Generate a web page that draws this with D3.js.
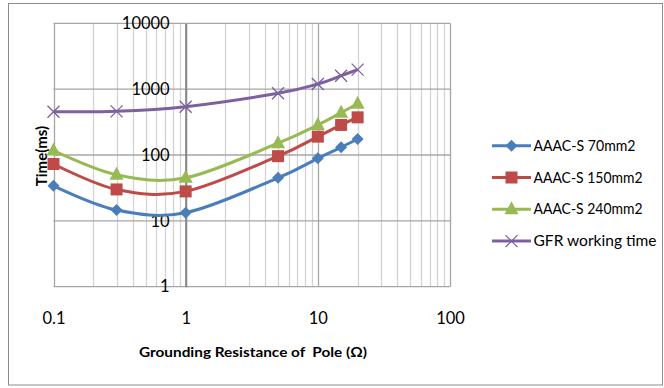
<!DOCTYPE html>
<html>
<head>
<meta charset="utf-8">
<script src="https://cdn.jsdelivr.net/npm/d3@7"></script>
<style>
  body { margin: 0; background: #fff; }
  svg text { font-family: Lato, "Liberation Sans", Arial, sans-serif; fill: #000; }
</style>
</head>
<body>
<svg id="chart" width="664" height="388"></svg>
<script>
// grounding resistance of pole (ohm)
const resistance = [0.1, 0.3, 1, 5, 10, 15, 20];

// times in ms
const aaac70 = [34, 14.6, 13.3, 45, 89, 131, 175];
const aaac150 = [73, 30, 28, 96, 190, 286, 373];
const aaac240 = [117, 50, 45, 151, 286, 440, 600];
const gfrTime = [455, 460, 542, 865, 1197, 1600, 1980];

const seriesNames = ['AAAC-S 70mm2', 'AAAC-S 150mm2', 'AAAC-S 240mm2', 'GFR working time'];
const xTickLabels = ['0.1', '1', '10', '100'];
const yTickLabels = ['1', '10', '100', '1000', '10000'];

const series = [
    { name: seriesNames[0], values: aaac70, color: '#4a7ebb', marker: 'diamond' },
    { name: seriesNames[1], values: aaac150, color: '#be4b48', marker: 'square' },
    { name: seriesNames[2], values: aaac240, color: '#98b954', marker: 'triangle' },
    { name: seriesNames[3], values: gfrTime, color: '#7d60a0', marker: 'cross' }
];

let svg = d3.select('#chart');

// chart border
svg.append('rect')
    .attr('x', 8.5).attr('y', 3.5)
    .attr('width', 654).attr('height', 381.5)
    .attr('fill', '#fff')
    .attr('stroke', '#8c8c8c');

let x = d3.scaleLog().domain([0.1, 100]).range([53.5, 450]);
let y = d3.scaleLog().domain([1, 10000]).range([286.7, 23.3]);

let isMajor = v => Math.abs(Math.log10(v) - Math.round(Math.log10(v))) < 1e-6;

// vertical gridlines (minor first, then major)
let xt = x.ticks();
svg.append('g').selectAll('line')
    .data(xt.filter(v => !isMajor(v)))
    .enter().append('line')
    .attr('x1', d => Math.round(x(d)) + 0.5).attr('x2', d => Math.round(x(d)) + 0.5)
    .attr('y1', y(1)).attr('y2', y(10000))
    .attr('stroke', '#d4d4d4').attr('stroke-width', 1.3);

svg.append('g').selectAll('line')
    .data(xt.filter(isMajor))
    .enter().append('line')
    .attr('x1', d => Math.round(x(d)) + 0.5).attr('x2', d => Math.round(x(d)) + 0.5)
    .attr('y1', y(1)).attr('y2', y(10000))
    .attr('stroke', '#a6a6a6').attr('stroke-width', 1.3);

// horizontal gridlines at decades
svg.append('g').selectAll('line')
    .data(yTickLabels.map(Number))
    .enter().append('line')
    .attr('x1', x(0.1)).attr('x2', x(100))
    .attr('y1', d => y(d)).attr('y2', d => y(d))
    .attr('stroke', '#a6a6a6').attr('stroke-width', 1.3);

// y axis crosses at x = 1
let yAxis = d3.axisLeft(y)
    .tickValues(yTickLabels.map(Number))
    .tickFormat((d, i) => yTickLabels[i])
    .tickSize(0)
    .tickPadding(16);

let gy = svg.append('g')
    .attr('transform', `translate(${x(1)},0)`)
    .call(yAxis);
gy.select('.domain').attr('stroke', '#868686').attr('stroke-width', 2);
gy.selectAll('text')
    .style('font-family', 'Lato, "Liberation Sans", sans-serif')
    .style('font-size', '16.5px');

let xAxis = d3.axisBottom(x)
    .tickValues(xTickLabels.map(Number))
    .tickFormat((d, i) => xTickLabels[i])
    .tickSize(0)
    .tickPadding(26);

let gx = svg.append('g')
    .attr('transform', `translate(0,${y(1)})`)
    .call(xAxis);
gx.select('.domain').remove();
gx.selectAll('text')
    .style('font-family', 'Lato, "Liberation Sans", sans-serif')
    .style('font-size', '16.5px');

// axis titles
svg.append('text')
    .attr('x', 253).attr('y', 357)
    .attr('text-anchor', 'middle')
    .attr('font-weight', 'bold')
    .attr('font-size', 14)
    .attr('xml:space', 'preserve')
    .style('white-space', 'pre')
    .attr('textLength', 228)
    .attr('lengthAdjust', 'spacingAndGlyphs')
    .text('Grounding Resistance of  Pole (Ω)');

svg.append('text')
    .attr('transform', 'translate(47,156) rotate(-90)')
    .attr('text-anchor', 'middle')
    .attr('font-weight', 'bold')
    .attr('font-size', 15)
    .text('Time(ms)');

// markers
function drawMarker(g, type, color) {
    if (type === 'diamond') {
        g.append('path').attr('d', 'M0,-6 L6,0 L0,6 L-6,0 Z').attr('fill', color);
    } else if (type === 'square') {
        g.append('rect').attr('x', -6).attr('y', -6).attr('width', 12).attr('height', 12).attr('fill', color);
    } else if (type === 'triangle') {
        g.append('path').attr('d', 'M0,-8 L7,5 L-7,5 Z').attr('fill', color);
    } else {
        g.append('path').attr('d', 'M-6,-6 L6,6 M-6,6 L6,-6')
            .attr('stroke', color).attr('stroke-width', 1.3).attr('fill', 'none');
    }
}

let line = d3.line()
    .x((d, i) => x(resistance[i]))
    .y(d => y(d))
    .curve(d3.curveCardinal);

series.forEach(s => {
    svg.append('path')
        .datum(s.values)
        .attr('d', line)
        .attr('fill', 'none')
        .attr('stroke', s.color)
        .attr('stroke-width', 3)
        .attr('stroke-linejoin', 'round');

    s.values.forEach((v, i) => {
        let g = svg.append('g').attr('transform', `translate(${x(resistance[i])},${y(v)})`);
        drawMarker(g, s.marker, s.color);
    });
});

// legend
let legend = svg.append('g');
series.forEach((s, i) => {
    let ly = 145.7 + i * 31.8;
    legend.append('line')
        .attr('x1', 492).attr('x2', 531)
        .attr('y1', ly).attr('y2', ly)
        .attr('stroke', s.color).attr('stroke-width', 3);
    let g = legend.append('g').attr('transform', `translate(511.5,${ly})`);
    drawMarker(g, s.marker, s.color);
    legend.append('text')
        .attr('x', 533.5).attr('y', ly + 5)
        .attr('font-size', 14.5)
        .attr('textLength', s.name === 'GFR working time' ? 123 : (s.name === 'AAAC-S 70mm2' ? 102 : 109))
        .attr('lengthAdjust', 'spacingAndGlyphs')
        .text(s.name);
});
</script>
</body>
</html>
